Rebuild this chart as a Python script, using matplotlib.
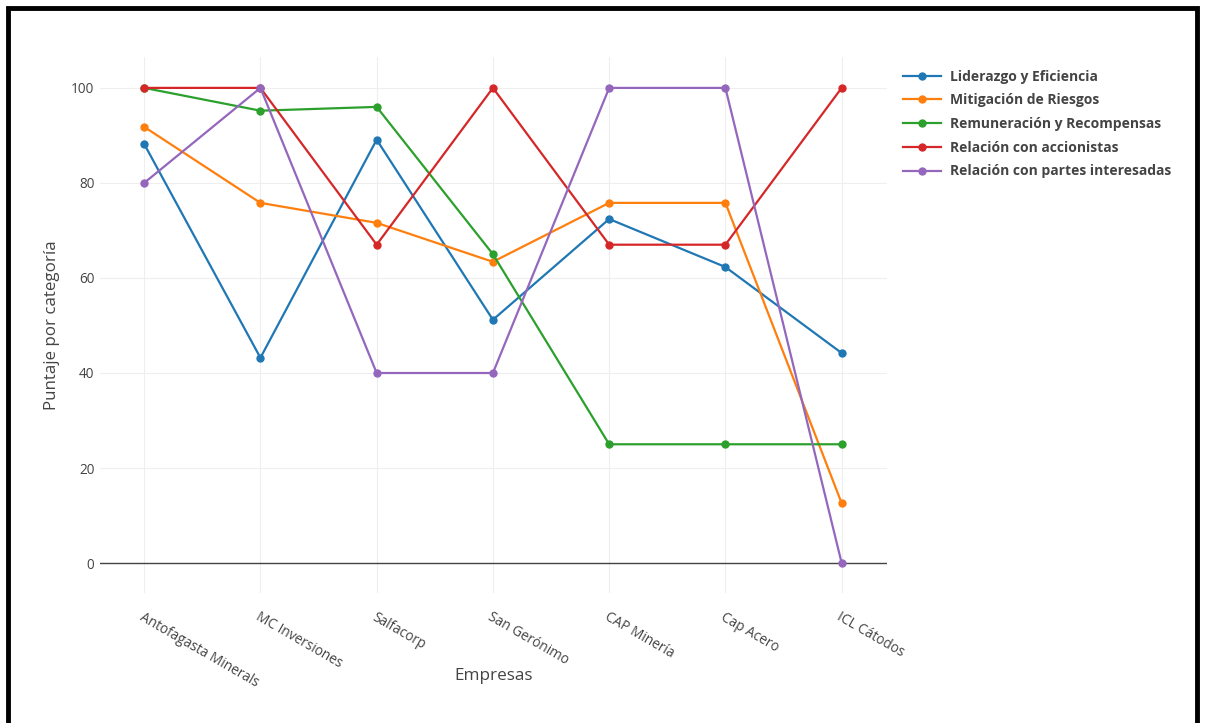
import matplotlib
matplotlib.use("Agg")
import matplotlib.pyplot as plt
from matplotlib.patches import Rectangle
from matplotlib.lines import Line2D

plt.rcParams['font.family'] = ['Open Sans', 'DejaVu Sans']

empresas = ["Antofagasta Minerals", "MC Inversiones", "Salfacorp", "San Gerónimo",
            "CAP Minería", "Cap Acero", "ICL Cátodos"]
liderazgo = [88.2, 43.2, 89.1, 51.2, 72.4, 62.3, 44.2]
mitigacion = [91.8, 75.8, 71.6, 63.4, 75.8, 75.8, 12.6]
remuneracion = [100, 95.2, 96, 65, 25, 25, 25]
accionistas = [100, 100, 67, 100, 67, 67, 100]
partes = [80, 100, 40, 40, 100, 100, 0]

series_names = ["Liderazgo y Eficiencia", "Mitigación de Riesgos",
                "Remuneración y Recompensas", "Relación con accionistas",
                "Relación con partes interesadas"]
series_values = [liderazgo, mitigacion, remuneracion, accionistas, partes]
colors = ["#1f77b4", "#ff7f0e", "#2ca02c", "#d62728", "#9467bd"]
yticks = [0, 20, 40, 60, 80, 100]

W, H = 1207, 723
fig = plt.figure(figsize=(W / 100, H / 100), dpi=100)
ax = fig.add_axes([100 / W, 1 - 593 / H, (887 - 100) / W, (593 - 57) / H])

x = list(range(len(empresas)))
for name, vals, c in zip(series_names, series_values, colors):
    ax.plot(x, vals, color=c, lw=1.6, marker='o', ms=5, label=name, zorder=3)

ax.set_xlim(-0.38, 6.39)
ax.set_ylim(-6.3, 106.5)
ax.set_yticks(yticks)
ax.set_xticks(x)
ax.set_xticklabels(empresas, rotation=-30, ha='left', va='top', rotation_mode='anchor')
ax.tick_params(axis='both', length=0, colors='#444444', labelsize=9.8)
ax.tick_params(axis='x', pad=12)
ax.tick_params(axis='y', pad=4)
ax.grid(True, color='#eeeeee', lw=0.8, zorder=0)
ax.axhline(0, color='#444444', lw=1.0, zorder=2)
for s in ax.spines.values():
    s.set_visible(False)

ax.set_ylabel("Puntaje por categoría", fontsize=12.2, color='#444444', labelpad=8)
fig.text(494 / W, 1 - 676 / H, "Empresas", fontsize=12.3, color='#444444',
         ha='center', va='center')

handles = [Line2D([0], [0], color=c, lw=1.6, marker='o', ms=5) for c in colors]
leg = fig.legend(handles, series_names, loc='upper left',
                 bbox_to_anchor=(897 / W, 1 - 64 / H), frameon=False,
                 prop={'weight': 'bold', 'size': 10}, handlelength=2.8,
                 handletextpad=0.6, labelspacing=0.7, borderaxespad=0)
for t in leg.get_texts():
    t.set_color('#444444')

fig.patches.append(Rectangle((8 / W, -0.05), (1197 - 8) / W, 1 - 8 / H + 0.05,
                             transform=fig.transFigure, fill=False,
                             edgecolor='black', lw=3.5))

fig.savefig("out.png", dpi=100)
